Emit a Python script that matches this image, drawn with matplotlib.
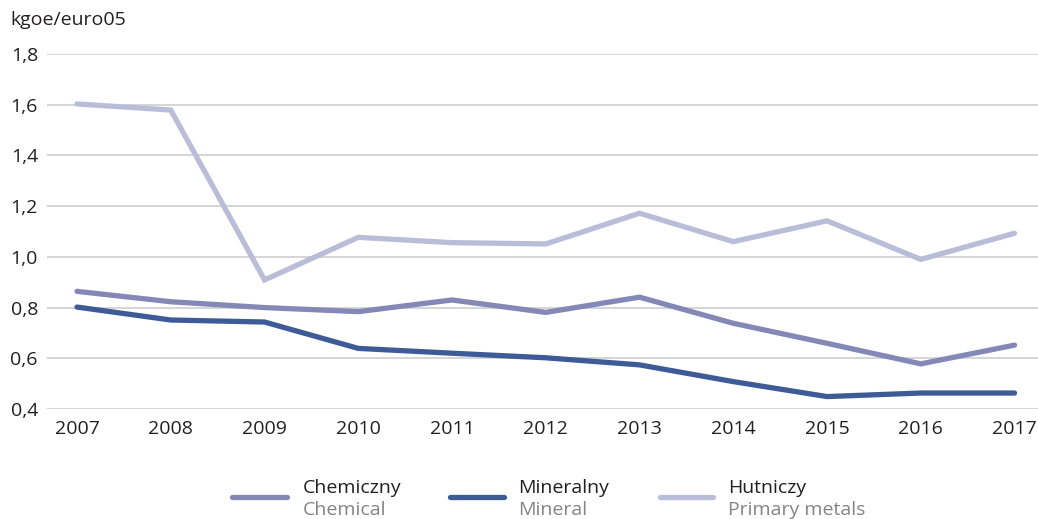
import matplotlib
matplotlib.use("Agg")
import matplotlib.pyplot as plt
from matplotlib.lines import Line2D
from matplotlib.ticker import FuncFormatter

years = [2007, 2008, 2009, 2010, 2011, 2012, 2013, 2014, 2015, 2016, 2017]
chemiczny = [0.864, 0.823, 0.800, 0.784, 0.830, 0.781, 0.841, 0.738, 0.659, 0.578, 0.652]
mineralny = [0.802, 0.751, 0.743, 0.639, 0.620, 0.602, 0.574, 0.508, 0.449, 0.463, 0.463]
hutniczy = [1.603, 1.579, 0.909, 1.077, 1.056, 1.051, 1.172, 1.060, 1.142, 0.990, 1.093]

names_pl = ["Chemiczny", "Mineralny", "Hutniczy"]
names_en = ["Chemical", "Mineral", "Primary metals"]
colors = ["#8388b6", "#3e5a97", "#babdd8"]

plt.rcParams['font.family'] = ['Open Sans', 'DejaVu Sans']
text_col = "#231f20"
fs = 14

fig = plt.figure(figsize=(10.38, 5.19), dpi=100)
ax = fig.add_axes([47 / 1038, 1 - 409 / 519, 991 / 1038, 355 / 519])

# Series
for vals, c in zip([chemiczny, mineralny, hutniczy], colors):
    ax.plot(years, vals, color=c, linewidth=3.8, solid_capstyle='round',
            solid_joinstyle='miter', zorder=3)

ax.set_xlim(2006.68, 2017.25)
ax.set_ylim(0.4, 1.8)
ax.set_yticks([0.4, 0.6, 0.8, 1.0, 1.2, 1.4, 1.6, 1.8])
ax.set_xticks(years)
ax.yaxis.set_major_formatter(FuncFormatter(lambda v, p: f"{v:.1f}".replace(".", ",")))
ax.grid(axis='y', color='#d2d2d2', linewidth=1.3, zorder=0)
ax.set_axisbelow(True)
for s in ax.spines.values():
    s.set_visible(False)
ax.tick_params(length=0, labelsize=fs, colors=text_col)
ax.tick_params(axis='y', pad=6.5)
ax.tick_params(axis='x', pad=8)

fig.text(10 / 1038, 1 - 20 / 519, "kgoe/euro05", fontsize=fs, color=text_col,
         ha='left', va='center')

# Legend
handle_x = [(232, 287), (450, 504), (660, 713)]
text_x = [303, 518, 728]
for (x0, x1), tx, c, pl, en in zip(handle_x, text_x, colors, names_pl, names_en):
    fig.add_artist(Line2D([x0 / 1038, x1 / 1038], [1 - 497 / 519] * 2, color=c,
                          linewidth=3.8, solid_capstyle='round'))
    fig.text(tx / 1038, 1 - 488 / 519, pl, fontsize=fs, color=text_col,
             ha='left', va='center')
    fig.text(tx / 1038, 1 - 510 / 519, en, fontsize=fs, color='#848484',
             ha='left', va='center')

fig.savefig("out.png", dpi=100)
